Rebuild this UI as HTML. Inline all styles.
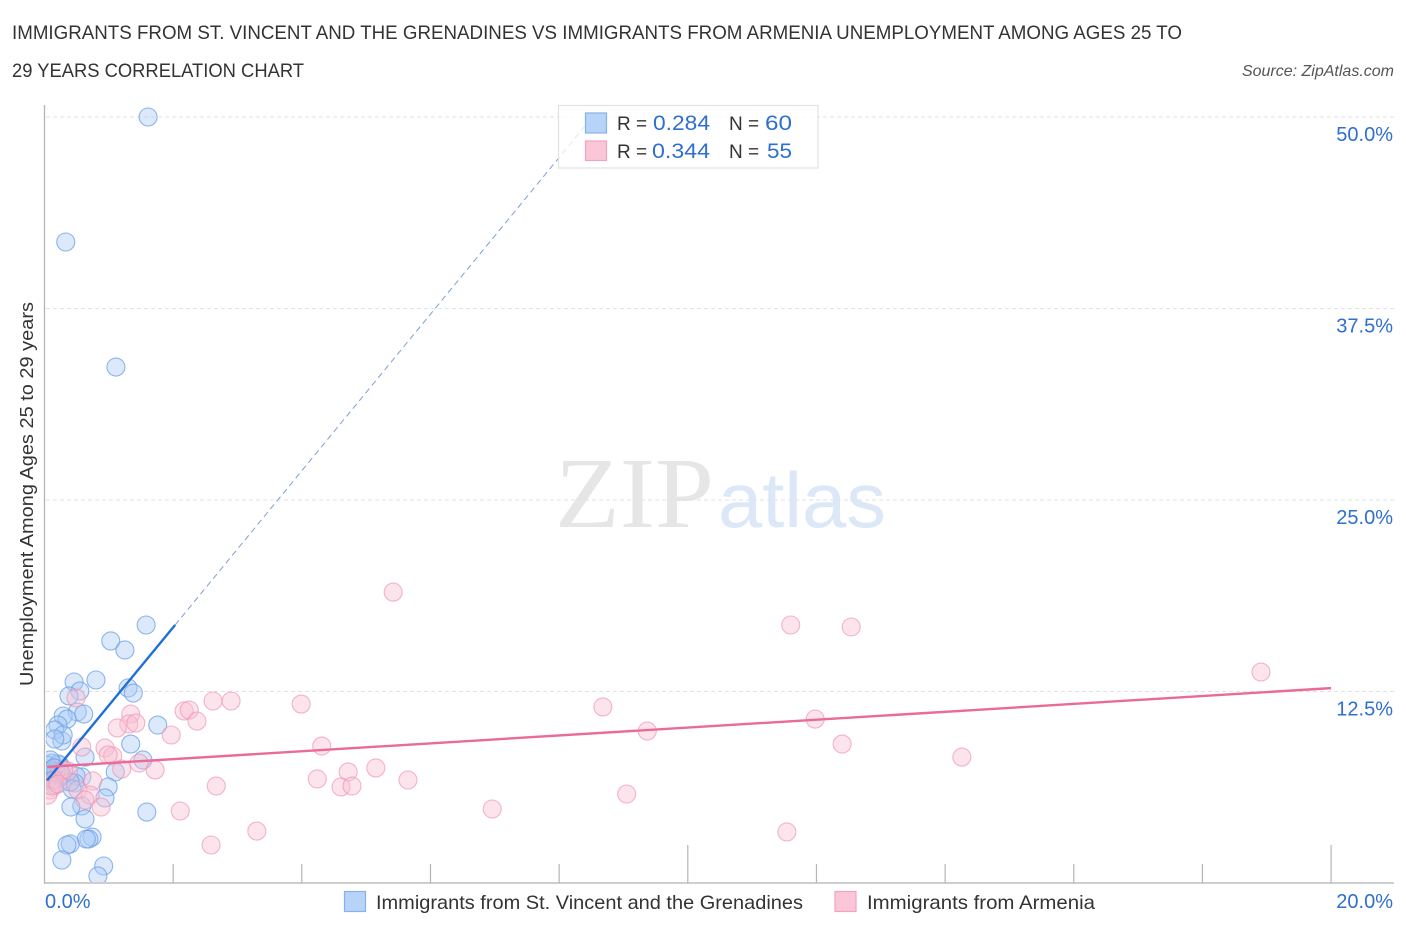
<!DOCTYPE html>
<html lang="en">
<head>
<meta charset="utf-8">
<title>Unemployment correlation chart</title>
<style>
html,body{margin:0;padding:0;background:#fff;width:1406px;height:930px;overflow:hidden}
svg{display:block}
text{font-family:"Liberation Sans",Arial,sans-serif}
</style>
</head>
<body>
<svg id="chart" width="1406" height="930" viewBox="0 0 1406 930" xmlns="http://www.w3.org/2000/svg">
  <defs>
    <clipPath id="plot-clip"><rect x="46" y="100" width="1340" height="782"/></clipPath>
  </defs>
  <rect x="0" y="0" width="1406" height="930" fill="#fff"/>
  <text x="12" y="39" font-size="19" fill="#333" textLength="1170" lengthAdjust="spacingAndGlyphs">IMMIGRANTS FROM ST. VINCENT AND THE GRENADINES VS IMMIGRANTS FROM ARMENIA UNEMPLOYMENT AMONG AGES 25 TO</text>
  <text x="12" y="77" font-size="19" fill="#333" textLength="292" lengthAdjust="spacingAndGlyphs">29 YEARS CORRELATION CHART</text>
  <text x="1394" y="76" font-size="16" font-style="italic" fill="#555" text-anchor="end">Source: ZipAtlas.com</text>

  <g>
    <text x="555" y="527" font-size="101" fill="#e6e6e6" textLength="159" lengthAdjust="spacingAndGlyphs" style="font-family:'Liberation Serif',serif">ZIP</text>
    <text x="718" y="527" font-size="78" fill="#dce8f8" textLength="168" lengthAdjust="spacingAndGlyphs">atlas</text>
  </g>

  <g id="grid"></g>
  <g id="axes"></g>
  <g id="points" clip-path="url(#plot-clip)"></g>
  <g id="lines"></g>
  <g id="labels"></g>

  <text transform="translate(33,494) rotate(-90)" font-size="18.5" fill="#333" text-anchor="middle" textLength="384" lengthAdjust="spacingAndGlyphs">Unemployment Among Ages 25 to 29 years</text>

  <g>
    <rect x="558.5" y="105.5" width="259.5" height="62.5" fill="#fff" fill-opacity="0.75" stroke="#e2e2e2" stroke-width="1.2"/>
    <rect x="585.5" y="113" width="21" height="20" fill="#b7d3f8" stroke="#86b2ea" stroke-width="1.2"/>
    <rect x="585.5" y="141" width="21" height="19.5" fill="#fbc6d7" stroke="#f3a3bd" stroke-width="1.2"/>
    <text x="617" y="130" font-size="19" fill="#333">R =</text>
    <text x="653" y="130" font-size="21" fill="#2f6fd0" textLength="57" lengthAdjust="spacingAndGlyphs">0.284</text>
    <text x="729" y="130" font-size="19" fill="#333">N =</text>
    <text x="765" y="130" font-size="21" fill="#2f6fd0" textLength="27" lengthAdjust="spacingAndGlyphs">60</text>
    <text x="617" y="158" font-size="19" fill="#333">R =</text>
    <text x="652" y="158" font-size="21" fill="#2f6fd0" textLength="58" lengthAdjust="spacingAndGlyphs">0.344</text>
    <text x="729" y="158" font-size="19" fill="#333">N =</text>
    <text x="767" y="158" font-size="21" fill="#2f6fd0" textLength="25" lengthAdjust="spacingAndGlyphs">55</text>
  </g>

  <g>
    <rect x="344.5" y="891.5" width="21" height="20" fill="#b7d3f8" stroke="#86b2ea" stroke-width="1.2"/>
    <text x="376" y="909" font-size="19.5" fill="#333" textLength="427" lengthAdjust="spacingAndGlyphs">Immigrants from St. Vincent and the Grenadines</text>
    <rect x="835" y="891.5" width="21" height="20" fill="#fbc6d7" stroke="#f3a3bd" stroke-width="1.2"/>
    <text x="867" y="909" font-size="19.5" fill="#333" textLength="228" lengthAdjust="spacingAndGlyphs">Immigrants from Armenia</text>
  </g>
</svg>
<script>
var blueX = [1.61,0.33,1.11,1.58,1.03,1.25,0.80,0.46,1.30,1.38,0.55,0.38,0.51,0.61,0.29,0.35,1.76,0.21,0.16,0.27,0.29,0.16,1.34,0.63,1.53,1.10,0.58,0.49,0.47,0.99,0.43,0.12,0.24,0.05,0.12,0.05,0.16,0.94,0.58,0.41,1.59,0.63,0.74,0.69,0.65,0.40,0.35,0.27,0.92,0.83,0.09,0.02,0.18,0.21,0.09,0.15,0.05,0.27,0.40,0.13];
var blueY = [50.0,41.84,33.68,16.84,15.80,15.21,13.25,13.12,12.73,12.40,12.53,12.21,11.16,11.03,10.90,10.70,10.31,10.31,9.99,9.27,9.66,9.40,9.07,8.22,8.03,7.25,6.92,6.98,6.53,6.27,6.14,7.83,7.70,7.70,7.25,6.72,6.40,5.55,5.03,4.96,4.63,4.18,3.00,2.87,2.87,2.55,2.48,1.50,1.11,0.46,7.38,7.25,7.25,7.77,8.03,7.51,7.05,7.05,6.59,6.72];
var pinkX = [5.42,11.60,12.54,18.91,2.90,2.62,3.99,8.68,2.17,2.25,1.34,2.37,11.98,1.31,1.42,1.13,9.37,1.97,0.49,12.40,4.31,0.94,0.58,1.06,0.99,14.26,5.15,4.72,1.72,1.47,1.20,4.24,5.65,4.61,4.78,2.67,0.75,0.37,0.24,0.16,0.09,0.05,0.12,0.30,0.21,0.52,0.71,0.63,0.88,6.96,9.05,2.11,3.30,11.54,2.59];
var pinkY = [18.99,16.84,16.71,13.77,11.88,11.88,11.68,11.49,11.23,11.29,11.03,10.57,10.70,10.38,10.44,10.12,9.92,9.66,12.08,9.07,8.94,8.81,8.88,8.29,8.36,8.22,7.51,7.25,7.38,7.83,7.44,6.79,6.72,6.27,6.33,6.33,6.66,7.31,7.25,6.72,6.07,5.74,6.33,7.38,6.46,6.07,5.74,5.42,4.96,4.83,5.81,4.70,3.39,3.33,2.48];
var yTicks = [12.5,25,37.5,50];
var yTickLabels = ["12.5%","25.0%","37.5%","50.0%"];
var xTicks = [2,4,6,8,10,12,14,16,18,20];
var xMajorTicks = [10,20];
var xEndLabels = ["0.0%","20.0%"];
var blueTrendX = [0.04,2.03];
var blueTrendY = [6.7,16.84];
var blueDashX = [2.03,8.4];
var blueDashY = [16.84,49.4];
var pinkTrendX = [0.04,20];
var pinkTrendY = [7.58,12.72];

var NS = 'http://www.w3.org/2000/svg';
function sx(v){ return 44.5 + v * 64.33; }
function sy(v){ return 883 - v * 15.32; }
function make(tag, attrs, parent){
  var el = document.createElementNS(NS, tag);
  for (var k in attrs) el.setAttribute(k, attrs[k]);
  parent.appendChild(el);
  return el;
}
var grid = document.getElementById('grid');
var axes = document.getElementById('axes');
var points = document.getElementById('points');
var lines = document.getElementById('lines');
var labels = document.getElementById('labels');

yTicks.forEach(function(t, i){
  var g = make('line', {x1:46, x2:1394, y1:sy(t), y2:sy(t), stroke:'#e2e2e2', 'stroke-width':1, 'stroke-dasharray':'4 3'}, grid);
  
  
  var l = make('text', {x:1393, y:sy(t)+24, 'font-size':20, fill:'#2f6fd0', 'text-anchor':'end'}, labels);
  l.textContent = yTickLabels[i];
  
  
});

var yAxis = make('line', {x1:44.5, x2:44.5, y1:105, y2:884, stroke:'#b5b5b5', 'stroke-width':1.3}, axes);


var xAxis = make('line', {x1:44, x2:1394, y1:883, y2:883, stroke:'#bdbdbd', 'stroke-width':1.5}, axes);


xTicks.forEach(function(t){
  var top = xMajorTicks.indexOf(t) >= 0 ? 845 : 864;
  var m = make('line', {x1:sx(t), x2:sx(t), y1:top, y2:883, stroke:'#b5b5b5', 'stroke-width':1.2}, axes);
  
  
});

var x0 = make('text', {x:45, y:908, 'font-size':20, fill:'#2f6fd0'}, labels);
x0.textContent = xEndLabels[0];


var x1 = make('text', {x:1393, y:908, 'font-size':20, fill:'#2f6fd0', 'text-anchor':'end'}, labels);
x1.textContent = xEndLabels[1];



blueX.forEach(function(v, i){
  var c = make('circle', {cx:sx(v), cy:sy(blueY[i]), r:9, fill:'#a9cbf5', 'fill-opacity':0.42, stroke:'#6a9fe6', 'stroke-opacity':0.75, 'stroke-width':1.1}, points);
  
  
});
pinkX.forEach(function(v, i){
  var c = make('circle', {cx:sx(v), cy:sy(pinkY[i]), r:9, fill:'#f9bed1', 'fill-opacity':0.42, stroke:'#f08fae', 'stroke-opacity':0.65, 'stroke-width':1.1}, points);
  
  
});

var bd = make('line', {x1:sx(blueDashX[0]), y1:sy(blueDashY[0]), x2:sx(blueDashX[1]), y2:sy(blueDashY[1]), stroke:'#7f9fd2', 'stroke-width':1, 'stroke-dasharray':'6 4'}, lines);


var bt = make('line', {x1:sx(blueTrendX[0]), y1:sy(blueTrendY[0]), x2:sx(blueTrendX[1]), y2:sy(blueTrendY[1]), stroke:'#1f6fd8', 'stroke-width':2.4}, lines);


var pt = make('line', {x1:sx(pinkTrendX[0]), y1:sy(pinkTrendY[0]), x2:sx(pinkTrendX[1]), y2:sy(pinkTrendY[1]), stroke:'#ea6a98', 'stroke-width':2.4}, lines);


</script>
</body>
</html>
